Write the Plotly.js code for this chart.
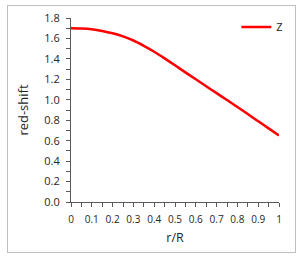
<!DOCTYPE html>
<html><head><meta charset="utf-8">
<script src="https://cdn.plot.ly/plotly-3.0.1.min.js"></script>
<style>
body{margin:0;padding:0;background:#fff;}
#wrap{position:relative;width:300px;height:263px;}
#chart{position:absolute;left:0;top:0;width:300px;height:263px;}
#frame{position:absolute;left:7px;top:5px;width:287px;height:246px;border:1px solid #bfbfbf;pointer-events:none;}
</style></head>
<body>
<div id="wrap"><div id="chart"></div><div id="frame"></div></div>
<script>
var rR = [0, 0.05, 0.1, 0.15, 0.2, 0.25, 0.3, 0.35, 0.4, 0.45, 0.5,
          0.55, 0.6, 0.65, 0.7, 0.75, 0.8, 0.85, 0.9, 0.95, 1.0];
var z  = [1.700, 1.698, 1.690, 1.673, 1.650, 1.620, 1.580, 1.528, 1.470, 1.405, 1.337,
          1.268, 1.200, 1.132, 1.065, 0.997, 0.930, 0.860, 0.790, 0.720, 0.650];
var seriesName = 'Z';

var trace = {x: rR, y: z, type: 'scatter', mode: 'lines', name: seriesName,
  line: {color: '#ff0000', width: 2.5, shape: 'spline', smoothing: 0.6}};

var fontFam = 'Open Sans, Liberation Sans, sans-serif';
var layout = {
  width: 300, height: 263,
  margin: {l: 71, r: 20, t: 15, b: 61, pad: 0},
  paper_bgcolor: '#fff', plot_bgcolor: '#fff',
  font: {family: fontFam, color: '#262626', size: 10},
  showlegend: true,
  legend: {x: 1.045, xanchor: 'right', y: 1.03, yanchor: 'top', bgcolor: 'rgba(0,0,0,0)',
    font: {size: 11, color: '#262626'}, itemwidth: 30, tracegroupgap: 0},
  xaxis: {range: [0, 1], dtick: 0.1, tick0: 0, showgrid: false, zeroline: false,
    showline: true, linecolor: '#595959', linewidth: 1,
    ticks: 'outside', ticklen: 4, tickcolor: '#595959', ticklabelstandoff: 4,
    minor: {dtick: 0.05, ticks: 'outside', ticklen: 4, tickcolor: '#595959', showgrid: false},
    tickfont: {size: 10, color: '#262626'},
    title: {text: 'r/R', font: {size: 12.5, color: '#262626'}, standoff: 8}},
  yaxis: {range: [0, 1.8], dtick: 0.2, tick0: 0, tickformat: '.1f', showgrid: false, zeroline: false,
    showline: true, linecolor: '#595959', linewidth: 1,
    ticks: 'outside', ticklen: 4, tickcolor: '#595959', ticklabelstandoff: 4,
    minor: {dtick: 0.1, ticks: 'outside', ticklen: 4, tickcolor: '#595959', showgrid: false},
    tickfont: {size: 11, color: '#262626'},
    title: {text: 'red-shift', font: {size: 13, color: '#262626'}, standoff: 12}}
};
Plotly.newPlot('chart', [trace], layout, {staticPlot: true, displayModeBar: false});
</script>
</body></html>
